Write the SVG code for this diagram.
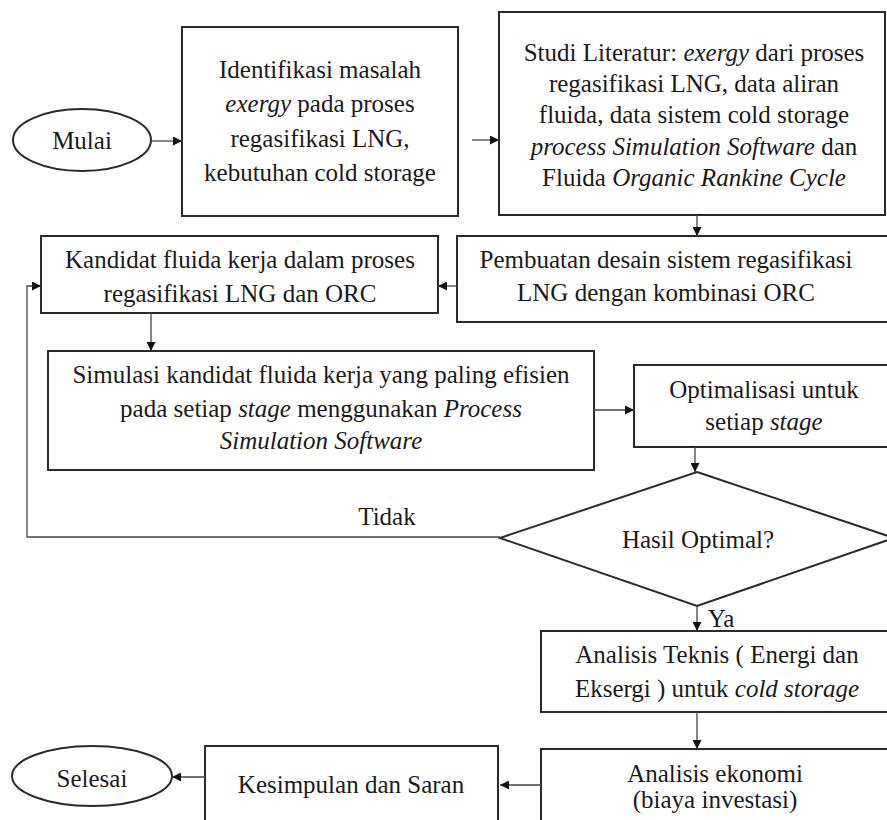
<svg xmlns="http://www.w3.org/2000/svg" width="887" height="820" viewBox="0 0 887 820">
<defs>
<style>
.box{fill:#fff;stroke:#2a2a2a;stroke-width:2}
.t{font-family:"Liberation Serif","Times New Roman",serif;font-size:25px;fill:#1a1a1a;text-anchor:middle}
.i{font-style:italic}
.c{fill:none;stroke:#444;stroke-width:1.3}
</style>
<marker id="ah" viewBox="0 0 10 10" refX="10" refY="5" markerWidth="9" markerHeight="9" markerUnits="userSpaceOnUse" orient="auto">
<path d="M0,0 L10,5 L0,10 z" fill="#111"/>
</marker>
</defs>
<rect width="887" height="820" fill="#fff"/>

<g id="mulai">
<ellipse class="box" cx="82" cy="140" rx="69" ry="31"/>
<text class="t" x="82" y="149">Mulai</text>
</g>

<g id="identifikasi">
<rect class="box" x="182" y="27" width="276" height="189"/>
<text class="t" x="320" y="78">Identifikasi masalah</text>
<text class="t" x="320" y="112"><tspan class="i">exergy</tspan> pada proses</text>
<text class="t" x="320" y="147">regasifikasi LNG,</text>
<text class="t" x="320" y="181">kebutuhan cold storage</text>
</g>

<g id="studi">
<rect class="box" x="499" y="12" width="386" height="203"/>
<text class="t" x="694" y="61">Studi Literatur: <tspan class="i">exergy</tspan> dari proses</text>
<text class="t" x="694" y="92">regasifikasi LNG, data aliran</text>
<text class="t" x="694" y="123">fluida, data sistem cold storage</text>
<text class="t" x="694" y="155"><tspan class="i">process Simulation Software</tspan> dan</text>
<text class="t" x="694" y="186">Fluida <tspan class="i">Organic Rankine Cycle</tspan></text>
</g>

<g id="pembuatan">
<rect class="box" x="457" y="236" width="432" height="86"/>
<text class="t" x="666" y="268">Pembuatan desain sistem regasifikasi</text>
<text class="t" x="666" y="301">LNG dengan kombinasi ORC</text>
</g>

<g id="kandidat">
<rect class="box" x="41" y="236" width="397" height="77"/>
<text class="t" x="240" y="268">Kandidat fluida kerja dalam proses</text>
<text class="t" x="240" y="302">regasifikasi LNG dan ORC</text>
</g>

<g id="simulasi">
<rect class="box" x="48" y="351" width="546" height="119"/>
<text class="t" x="321" y="383">Simulasi kandidat fluida kerja yang paling efisien</text>
<text class="t" x="321" y="417">pada setiap <tspan class="i">stage</tspan> menggunakan <tspan class="i">Process</tspan></text>
<text class="t" x="321" y="449" font-style="italic">Simulation Software</text>
</g>

<g id="optimalisasi">
<rect class="box" x="634" y="365" width="255" height="82"/>
<text class="t" x="764" y="398">Optimalisasi untuk</text>
<text class="t" x="764" y="430">setiap <tspan class="i">stage</tspan></text>
</g>

<g id="hasil">
<polygon class="box" points="697,472 894,538 697,606 500,538"/>
<text class="t" x="698" y="548">Hasil Optimal?</text>
</g>

<g id="teknis">
<rect class="box" x="541" y="631" width="350" height="81"/>
<text class="t" x="717" y="663">Analisis Teknis ( Energi dan</text>
<text class="t" x="717" y="697">Eksergi ) untuk <tspan class="i">cold storage</tspan></text>
</g>

<g id="ekonomi">
<rect class="box" x="541" y="749" width="350" height="90"/>
<text class="t" x="715" y="782">Analisis ekonomi</text>
<text class="t" x="715" y="808">(biaya investasi)</text>
</g>

<g id="kesimpulan">
<rect class="box" x="205" y="746" width="293" height="90"/>
<text class="t" x="351" y="793">Kesimpulan dan Saran</text>
</g>

<g id="selesai">
<ellipse class="box" cx="92" cy="776" rx="80" ry="30"/>
<text class="t" x="92" y="787">Selesai</text>
</g>

<g id="connectors">
<path class="c" d="M151,141 H182" marker-end="url(#ah)"/>
<path class="c" d="M472,140 H499" marker-end="url(#ah)"/>
<path class="c" d="M697,215 V236" marker-end="url(#ah)"/>
<path class="c" d="M457,286 H438" marker-end="url(#ah)"/>
<path class="c" d="M151,313 V351" marker-end="url(#ah)"/>
<path class="c" d="M594,410 H634" marker-end="url(#ah)"/>
<path class="c" d="M695,447 V472" marker-end="url(#ah)"/>
<path class="c" d="M500,537 H27 V286 H41" marker-end="url(#ah)"/>
<path class="c" d="M697,606 V631" marker-end="url(#ah)"/>
<path class="c" d="M697,712 V749" marker-end="url(#ah)"/>
<path class="c" d="M541,785 H500" marker-end="url(#ah)"/>
<path class="c" d="M205,777 H172" marker-end="url(#ah)"/>
<text class="t" x="387" y="525">Tidak</text>
<text class="t" x="721" y="627">Ya</text>
</g>
</svg>
